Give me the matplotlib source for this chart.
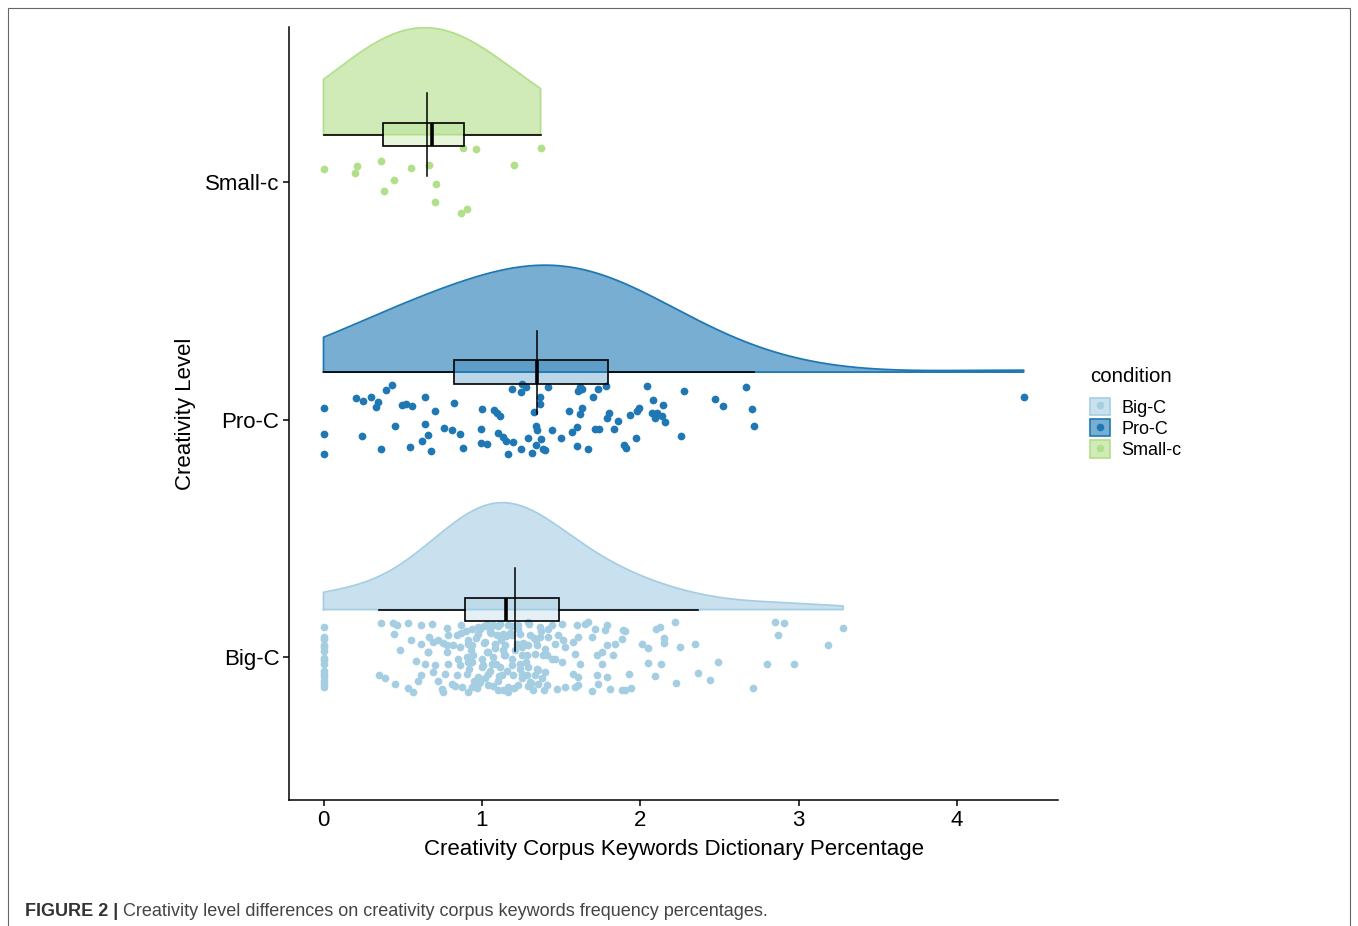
import numpy as np
import matplotlib
matplotlib.use('Agg')
import matplotlib.pyplot as plt
from matplotlib.patches import Patch, Rectangle
from matplotlib.lines import Line2D

plt.rcParams['font.family'] = ['Liberation Sans', 'DejaVu Sans']

# ---------------- data ----------------
groups = ['Big-C', 'Pro-C', 'Small-c']
colors = ['#a6cee3', '#1f78b4', '#b2df8a']
x_ticks = [0, 1, 2, 3, 4]
x_label = 'Creativity Corpus Keywords Dictionary Percentage'
y_label = 'Creativity Level'
legend_title = 'condition'

small_x = [0.00, 0.21, 0.20, 0.365, 0.445, 0.38, 0.55, 0.665, 0.71, 0.705,
           0.905, 0.87, 0.88, 0.965, 1.205, 1.37]
small_j = [0.055, 0.067, 0.039, 0.090, 0.007, -0.037, 0.059, 0.073, -0.008, -0.086,
           -0.115, -0.132, 0.142, 0.138, 0.073, 0.144]

pro_x = [0.0, 0.0, 0.0,
         0.205, 0.247, 0.300, 0.342, 0.329, 0.397, 0.432, 0.495, 0.519, 0.558, 0.643, 0.706, 0.824,
         0.243, 0.453, 0.363, 0.544, 0.643, 0.657, 0.624, 0.678, 0.758, 0.813, 0.859, 0.878,
         0.998, 1.078, 1.095, 1.116, 0.994, 0.994, 1.032, 1.101, 1.131, 1.150, 1.194, 1.162,
         1.249, 1.293, 1.339, 1.318, 1.371, 1.383, 1.341, 1.350, 1.327, 1.368, 1.364, 1.192,
         1.244, 1.253, 1.278,
         1.419, 1.608, 1.634, 1.620, 1.730, 1.781, 1.703, 2.044, 2.277, 2.665, 2.080, 2.145,
         2.471, 2.524, 2.707, 2.719,
         1.634, 1.552, 1.617, 1.802, 1.791, 1.859, 1.932, 1.979, 1.991, 2.075, 2.103, 2.094,
         2.134, 2.158,
         1.440, 1.497, 1.568, 1.602, 1.714, 1.739, 1.834, 1.972, 2.256,
         1.600, 1.667, 1.895, 1.907, 1.398,
         4.42]
pro_j = [0.048, -0.059, -0.146,
         0.091, 0.079, 0.097, 0.074, 0.052, 0.123, 0.146, 0.063, 0.064, 0.056, 0.094, 0.034, 0.069,
         -0.069, -0.027, -0.124, -0.114, -0.020, -0.065, -0.089, -0.131, -0.034, -0.044, -0.060, -0.121,
         0.045, 0.041, 0.028, 0.015, -0.038, -0.100, -0.104, -0.056, -0.073, -0.090, -0.094, -0.143,
         -0.122, -0.076, -0.107, -0.141, -0.081, -0.126, -0.027, -0.045, 0.032, 0.064, 0.093, 0.130,
         0.114, 0.149, 0.137,
         0.139, 0.121, 0.128, 0.135, 0.128, 0.142, 0.093, 0.142, 0.121, 0.137, 0.083, 0.062,
         0.087, 0.059, 0.046, -0.026,
         0.048, 0.035, 0.022, 0.029, 0.007, -0.007, 0.019, 0.034, 0.048, 0.029, 0.027, 0.007,
         0.013, -0.012,
         -0.043, -0.078, -0.052, -0.030, -0.041, -0.038, -0.041, -0.079, -0.069,
         -0.110, -0.122, -0.108, -0.118, -0.128,
         0.097]

big_x = [0.0] * 15 + [
    0.361, 0.441, 0.462, 0.532, 0.616, 0.443, 0.552, 0.616, 0.483, 0.582, 0.352, 0.388,
    0.451, 0.532, 0.563, 0.595, 0.616,
    0.687, 0.782, 0.868, 0.936, 0.978, 1.015, 1.072, 1.114, 1.167, 1.230,
    0.666, 0.725, 0.788, 0.841, 0.915, 0.978, 1.051, 1.093, 1.135, 1.188, 1.241,
    0.694, 0.757, 0.820, 0.862, 0.915, 1.020, 1.083, 1.146, 1.220, 1.251,
    0.662, 0.778, 0.851, 0.904, 0.946, 1.030, 1.072, 1.146, 1.188, 1.251,
    0.641, 0.704, 0.788, 0.862, 0.936, 1.009, 1.062, 1.114, 1.188, 1.241,
    0.694, 0.767, 0.841, 0.904, 0.978, 1.041, 1.125, 1.199, 1.251,
    0.746, 0.809, 0.872, 0.936, 0.988, 1.041, 1.104, 1.167, 1.230, 0.757, 0.915, 1.167,
    1.293, 1.367, 1.440, 1.503, 1.598, 1.651, 1.672, 1.714, 1.788, 1.777, 1.893,
    1.304, 1.367, 1.419, 1.482, 1.514, 1.609, 1.693, 1.788, 1.840, 1.882,
    1.293, 1.346, 1.398, 1.461, 1.524, 1.577,
    1.283, 1.335, 1.388, 1.440, 1.503, 1.588, 1.619, 1.724, 1.756, 1.830, 1.756,
    1.293, 1.356, 1.398, 1.283, 1.335, 1.577, 1.609, 1.724, 1.788,
    1.304, 1.356, 1.409, 1.325, 1.472, 1.524, 1.588, 1.609, 1.693, 1.735, 1.809, 1.882,
    1.904, 2.097, 2.124, 2.219, 2.150, 2.150, 2.009, 2.051, 2.250, 2.345, 2.051, 2.131,
    1.929, 2.093, 1.941, 1.904, 2.227, 2.364, 2.440, 2.489, 2.712, 2.802, 2.852, 2.905,
    2.867, 2.970, 3.185, 3.280,
    0.90, 0.92, 0.93, 0.95, 0.96, 0.97, 0.99, 1.00, 1.01, 1.02, 1.03, 1.04, 1.05, 1.06, 1.07,
    1.08, 1.09, 1.10, 1.11, 1.12, 1.13, 1.14, 1.15, 0.91, 0.94, 0.98, 1.00, 1.05, 1.10, 1.13,
    1.16, 1.18, 1.20, 1.21, 1.23, 1.25, 1.26, 1.28, 1.30, 1.31, 1.33, 1.35, 1.37, 1.39, 1.41,
    1.19, 1.24, 1.29, 1.34, 1.38, 1.42, 1.46,
    0.66, 0.72, 0.78, 0.83, 0.87]
big_j = [0.125, 0.084, 0.077, 0.049, 0.042, 0.024, -0.004, -0.014, -0.028, -0.060,
         -0.070, -0.084, -0.102, -0.112, -0.126] + [
    0.144, 0.144, 0.133, 0.144, 0.136, 0.097, 0.072, 0.056, 0.031, -0.018, -0.077, -0.088,
    -0.114, -0.131, -0.147, -0.101, -0.077,
    0.140, 0.124, 0.133, 0.119, 0.126, 0.131, 0.133, 0.140, 0.133, 0.133,
    0.084, 0.070, 0.091, 0.094, 0.070, 0.098, 0.105, 0.091, 0.098, 0.091, 0.098,
    0.063, 0.060, 0.049, 0.042, 0.056, 0.063, 0.056, 0.049, 0.056, 0.042,
    0.021, 0.021, -0.007, 0.000, 0.007, 0.021, 0.000, 0.007, -0.007, 0.007,
    -0.028, -0.035, -0.028, -0.035, -0.021, -0.035, -0.028, -0.042, -0.035, -0.049,
    -0.063, -0.070, -0.077, -0.070, -0.084, -0.070, -0.077, -0.077, -0.070,
    -0.133, -0.112, -0.126, -0.126, -0.105, -0.119, -0.140, -0.126, -0.119, -0.147, -0.147, -0.147,
    0.147, 0.126, 0.133, 0.140, 0.133, 0.140, 0.147, 0.119, 0.133, 0.112, 0.112,
    0.091, 0.084, 0.084, 0.091, 0.070, 0.084, 0.084, 0.049, 0.056, 0.077,
    0.049, 0.049, 0.035, 0.056, 0.042, 0.063,
    0.007, 0.014, 0.007, -0.007, -0.021, 0.014, -0.028, 0.007, 0.021, 0.007, -0.028,
    -0.042, -0.056, -0.063, -0.077, -0.077, -0.070, -0.084, -0.077, -0.084,
    -0.105, -0.112, -0.119, -0.140, -0.136, -0.126, -0.126, -0.119, -0.143, -0.112, -0.133, -0.140,
    0.108, 0.119, 0.128, 0.147, 0.080, 0.059, 0.053, 0.038, 0.042, 0.056, -0.024, -0.028,
    -0.073, -0.081, -0.129, -0.138, -0.108, -0.066, -0.098, -0.021, -0.129, -0.028, 0.149, 0.144,
    0.091, -0.028, 0.049, 0.123,
    0.11, -0.05, 0.03, -0.10, 0.08, -0.13, 0.12, -0.01, 0.06, -0.09, 0.14, 0.02, -0.06, 0.10, -0.12,
    0.04, -0.03, 0.13, -0.08, 0.07, -0.14, 0.01, 0.09, -0.02, 0.05, -0.11, -0.04, 0.12, -0.10, 0.03,
    -0.06, 0.10, -0.13, 0.03, 0.12, -0.09, 0.06, -0.02, 0.14, -0.11, 0.08, -0.05, 0.11, -0.14, 0.01,
    0.13, -0.03, -0.12, 0.07, -0.09, 0.12, -0.01,
    0.02, -0.10, 0.05, -0.12, 0.10]

values = [big_x, pro_x, small_x]
jitters = [big_j, pro_j, small_j]
bandwidths = [0.31, 0.50, 0.40]

# ---------------- figure ----------------
W, H = 1358, 926
fig = plt.figure(figsize=(W / 100, H / 100), dpi=100)
ax = fig.add_axes([289 / W, 1 - 800 / H, (1058 - 289) / W, (800 - 27) / H])


def kde(data, grid, bw):
    d = np.asarray(data)[:, None]
    z = (grid[None, :] - d) / bw
    return np.exp(-0.5 * z ** 2).sum(axis=0) / (len(data) * bw * np.sqrt(2 * np.pi))


for i, (g, c, xs, js, bw) in enumerate(zip(groups, colors, values, jitters, bandwidths)):
    pos = i + 1
    base = pos + 0.2
    xs = np.asarray(xs, dtype=float)
    js = np.asarray(js, dtype=float)
    grid = np.linspace(xs.min(), xs.max(), 600)
    dens = kde(xs, grid, bw)
    h = dens / dens.max() * 0.45
    ax.fill_between(grid, base, base + h, color=c, alpha=0.6, lw=0, zorder=1)
    ax.plot(np.r_[grid[0], grid, grid[-1], grid[0]],
            np.r_[base, base + h, base, base], color=c, lw=1.3, zorder=2)
    ax.scatter(xs, pos + js, s=31, color=c, lw=0, zorder=3)
    ax.boxplot([xs], positions=[base], widths=0.1, orientation='horizontal',
               showfliers=False, showcaps=False, patch_artist=True, manage_ticks=False,
               boxprops=dict(facecolor=(c, 0.3), edgecolor='black', lw=1.2),
               whiskerprops=dict(color='black', lw=1.2),
               medianprops=dict(color='black', lw=2.6), zorder=4)
    m = xs.mean()
    ax.plot([m, m], [base - 0.175, base + 0.175], color='black', lw=1.1, zorder=5)

ax.set_xlim(-0.218, 4.637)
ax.set_ylim(0.398, 3.653)
ax.set_xticks(x_ticks, [str(t) for t in x_ticks])
ax.set_yticks([1, 2, 3], groups)
for s in ['top', 'right']:
    ax.spines[s].set_visible(False)
for s in ['left', 'bottom']:
    ax.spines[s].set_linewidth(1.1)
ax.tick_params(axis='both', labelsize=16, length=4, width=1.1, color='black', pad=3)
ax.set_xlabel(x_label, fontsize=16, labelpad=6)
ax.set_ylabel(y_label, fontsize=16, labelpad=6)

handles = [(Patch(facecolor=(c, 0.6), edgecolor=c, lw=1.2),
            Line2D([], [], marker='o', ls='', color=c, markersize=5.5, mew=0)) for c in colors]
fig.legend(handles, groups, loc='upper left', bbox_to_anchor=(1090 / W, 1 - 398 / H),
           frameon=False, fontsize=13, handlelength=1.1, handleheight=1.1,
           labelspacing=0.13, handletextpad=0.65, borderpad=0, borderaxespad=0)
fig.text(1090 / W, 1 - 377 / H, legend_title, fontsize=14.7, va='center', ha='left')

fig.add_artist(Rectangle((8 / W, -0.01), (1350 - 8) / W, (H - 8) / H + 0.01,
                         transform=fig.transFigure, fill=False, ec='#666666', lw=0.8))

t1 = fig.text(25 / W, 1 - 916 / H, 'FIGURE 2 |', fontsize=13, fontweight='bold',
              color='#333333', family=['Liberation Sans Narrow', 'Liberation Sans'])
ax.annotate(' Creativity level differences on creativity corpus keywords frequency percentages.',
            xy=(1, 0), xycoords=t1, va='bottom', ha='left', fontsize=13, color='#444444',
            family=['Liberation Sans Narrow', 'Liberation Sans'], annotation_clip=False)

fig.savefig('out.png', dpi=100)
